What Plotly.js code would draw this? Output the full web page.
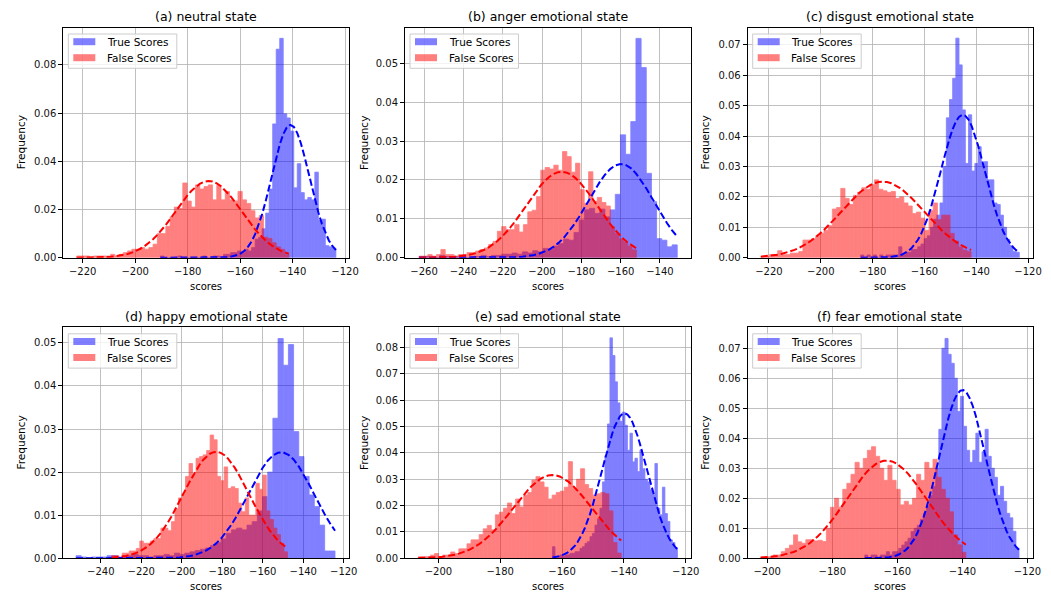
<!DOCTYPE html>
<html>
<head>
<meta charset="utf-8">
<script src="https://cdn.plot.ly/plotly-3.0.1.min.js"></script>
<style>
  html, body { margin: 0; padding: 0; background: #fff; }
  #chart { width: 1051px; height: 592px; }
</style>
</head>
<body>
<div id="chart"></div>
<script>
// Score distributions of true / false trials for six emotional states.
// Each histogram: 50 equal-width bins between the listed min and max score,
// heights are densities (Frequency). Dashed curves: fitted normal densities.

const panelTitles = [
  '(a) neutral state', '(b) anger emotional state', '(c) disgust emotional state',
  '(d) happy emotional state', '(e) sad emotional state', '(f) fear emotional state'
];
const seriesNames = ['True Scores', 'False Scores'];

// ---- (a) neutral ----
const neutralTrue = [0.0007,0,0,0,0,0.0007,0,0,0,0, 0,0,0.0007,0,0,0.0007,0.0007,0,0.0014,0.0014,
  0.0021,0.0021,0.0028,0.0021,0.0035,0.0028,0.0042,0.0077,0.0084,0.012,
  0.0185,0.0285,0.0555,0.0865,0.091,0.0597,0.058,0.0525,0.029,0.039,
  0.027,0.024,0.025,0.024,0.0355,0.0155,0.016,0.005,0.0045,0.004];
const neutralTrueRange = [-190.4, -123.5];
const neutralTrueFit = [-140.8, 7.24];          // [mean, std]
const neutralFalse = [0.0007,0.0007,0.0007,0,0.0007,0.0007,0.0007,0.0007,0.0014,0.0007,
  0.0014,0.0021,0.0028,0.0035,0.0035,0.0042,0.0035,0.0042,0.0056,0.0100,
  0.0100,0.013,0.017,0.021,0.0205,0.031,0.0235,0.021,0.0302,0.0285,
  0.0295,0.0302,0.024,0.030,0.024,0.0275,0.024,0.0235,0.0275,0.024,
  0.0225,0.0195,0.0165,0.0175,0.0085,0.008,0.0062,0.0045,0.0035,0.0012];
const neutralFalseRange = [-222.3, -141.4];
const neutralFalseFit = [-172.0, 12.55];

// ---- (b) anger ----
const angerTrue = [0.0003,0.0003,0,0,0.0006,0.0003,0,0.0003,0.0003,0,
  0.0003,0.0003,0.0006,0.0003,0.0006,0.0006,0.0009,0.0009,0.0012,0.0009,
  0.0015,0.0012,0.0018,0.0015,0.0024,0.0021,0.003,0.0036,0.0048,0.0045,
  0.0065,0.0097,0.0123,0.0127,0.0114,0.0125,0.0105,0.0123,0.0163,0.0316,
  0.0266,0.035,0.0564,0.0489,0.0217,0.0144,0.0049,0.0045,0.0028,0.0033];
const angerTrueRange = [-262.5, -131.2];
const angerTrueFit = [-159.8, 16.55];
const angerFalse = [0.0004,0.0004,0.0008,0.0004,0.0008,0.0021,0.0008,0.0008,0.0004,0.0008,
  0.0008,0.0013,0.0013,0.0017,0.0021,0.0025,0.0034,0.0042,0.0068,0.0080,
  0.0072,0.0072,0.0085,0.0066,0.0085,0.0118,0.0122,0.0157,0.0225,0.0232,
  0.0228,0.0238,0.0225,0.0273,0.0260,0.0220,0.0243,0.0175,0.0140,0.0221,
  0.0145,0.0155,0.0142,0.0133,0.0080,0.0063,0.0048,0.0040,0.0030,0.0020];
const angerFalseRange = [-262.5, -152.0];
const angerFalseFit = [-190.0, 18.05];

// ---- (c) disgust ----
const disgustTrue = [0.0009,0,0.0009,0,0.0009,0,0.0009,0,0.0009,0.0009,
  0.0009,0.0009,0.0036,0.0009,0.0018,0.0018,0.0027,0.0027,0.0036,0.0045,
  0.0063,0.0072,0.0100,0.0127,0.0140,0.0180,0.030,0.046,0.052,0.059,
  0.0722,0.0634,0.0486,0.031,0.047,0.0285,0.031,0.0365,0.031,0.0316,
  0.0256,0.0256,0.018,0.0175,0.014,0.010,0.006,0.004,0.002,0.0018];
const disgustTrueRange = [-184.6, -123.4];
const disgustTrueFit = [-145.2, 8.49];
const disgustFalse = [0.0005,0.0005,0.0010,0.0010,0.0023,0.0010,0.0010,0.0015,0.0015,0.0020,
  0.0058,0.0058,0.0062,0.0070,0.0080,0.0090,0.0105,0.0160,0.0165,0.0228,
  0.0195,0.0175,0.0205,0.0215,0.0230,0.0225,0.0240,0.0256,0.0225,0.0220,
  0.0215,0.0218,0.0195,0.0200,0.0180,0.0170,0.0145,0.0150,0.0130,0.0090,
  0.0155,0.0180,0.0125,0.0140,0.0140,0.0080,0.0055,0.0035,0.0025,0.0020];
const disgustFalseRange = [-223.1, -142.0];
const disgustFalseFit = [-176.1, 15.96];

// ---- (d) happy ----
const happyTrue = [0.0006,0.0003,0,0.0003,0.0003,0.0003,0.0006,0.0006,0.0003,0.0006,
  0.0006,0.0009,0.0006,0.0006,0.0003,0.0006,0.0006,0.0009,0.0006,0.0012,
  0.0009,0.0012,0.0015,0.0018,0.0021,0.0024,0.0030,0.0036,0.0045,0.0058,
  0.0066,0.0070,0.0066,0.0077,0.0085,0.0110,0.0143,0.0200,0.0325,0.0510,
  0.0448,0.0496,0.0294,0.0236,0.0190,0.0147,0.0120,0.0077,0.0017,0.0017];
const happyTrueRange = [-252.2, -124.3];
const happyTrueFit = [-150.9, 16.2];
const happyFalse = [0.0006,0.0006,0,0.0012,0.0012,0.0017,0.0017,0.0023,0.0040,0.0035,
  0.0035,0.0040,0.0046,0.0046,0.0070,0.0070,0.0064,0.0085,0.0115,0.0140,
  0.0150,0.0190,0.0220,0.0195,0.0232,0.0236,0.0240,0.0250,0.0286,0.0275,
  0.0190,0.0180,0.0212,0.0162,0.0166,0.0162,0.0128,0.0108,0.0140,0.0100,
  0.0100,0.0174,0.0160,0.0193,0.0110,0.0090,0.0070,0.0055,0.0035,0.0015];
const happyFalseRange = [-234.6, -147.8];
const happyFalseFit = [-183.0, 16.15];

// ---- (e) sad ----
const sadTrue = [0.0044,0.0006,0.0006,0.0013,0.0006,0.0013,0.0013,0.0019,0.0019,0.0025,
  0.0025,0.0038,0.0044,0.0057,0.0063,0.0082,0.0095,0.0126,0.0150,0.0190,
  0.0290,0.0390,0.0510,0.0837,0.0770,0.0670,0.0590,0.0520,0.0555,0.0505,
  0.0410,0.0475,0.0366,0.0380,0.0329,0.0410,0.0340,0.0300,0.0290,0.0260,
  0.0240,0.0360,0.0190,0.0165,0.0270,0.0170,0.0140,0.0070,0.0060,0.0040];
const sadTrueRange = [-163.1, -122.7];
const sadTrueFit = [-139.8, 7.25];
const sadFalse = [0.0006,0.0006,0.0006,0.0012,0.0018,0.0006,0.0012,0.0012,0.0024,0.0018,
  0.0036,0.0036,0.0055,0.0070,0.0070,0.0090,0.0112,0.0125,0.0108,0.0165,
  0.0175,0.0190,0.0210,0.0170,0.0225,0.0195,0.0240,0.0250,0.0297,0.0310,
  0.0290,0.0270,0.0225,0.0240,0.0250,0.0255,0.0270,0.0367,0.0265,0.0300,
  0.0340,0.0280,0.0265,0.0240,0.0245,0.0250,0.0245,0.0180,0.0060,0.0020];
const sadFalseRange = [-206.5, -140.9];
const sadFalseFit = [-163.1, 12.62];

// ---- (f) fear ----
const fearTrue = [0.0011,0,0.0011,0.0011,0,0.0011,0.0011,0.0022,0.0011,0.0022,
  0.0022,0.0033,0.0044,0.0055,0.0067,0.0089,0.0100,0.0110,0.0130,0.0150,
  0.0175,0.0210,0.0240,0.0300,0.0430,0.0700,0.0733,0.0680,0.0650,0.0600,
  0.0490,0.0540,0.0440,0.0360,0.0320,0.0360,0.0417,0.0320,0.0355,0.0430,
  0.0340,0.0300,0.0270,0.0210,0.0240,0.0190,0.0150,0.0135,0.0090,0.0033];
const fearTrueRange = [-170.0, -122.6];
const fearTrueFit = [-140.0, 7.11];
const fearFalse = [0.0005,0.0005,0.0005,0.0011,0.0011,0.0022,0.0033,0.0044,0.0078,0.0055,
  0.0050,0.0062,0.0062,0.0058,0.0060,0.0056,0.0100,0.0170,0.0200,0.0170,
  0.0230,0.0250,0.0280,0.0320,0.0300,0.0333,0.0360,0.0372,0.0340,0.0300,
  0.0260,0.0310,0.0260,0.0230,0.0178,0.0190,0.0178,0.0200,0.0280,0.0260,
  0.0320,0.0300,0.0330,0.0270,0.0230,0.0200,0.0155,0.0078,0.0045,0.0020];
const fearFalseRange = [-202.0, -138.95];
const fearFalseFit = [-163.3, 12.24];

const panelData = [
  [neutralTrue, neutralTrueRange, neutralTrueFit, neutralFalse, neutralFalseRange, neutralFalseFit],
  [angerTrue, angerTrueRange, angerTrueFit, angerFalse, angerFalseRange, angerFalseFit],
  [disgustTrue, disgustTrueRange, disgustTrueFit, disgustFalse, disgustFalseRange, disgustFalseFit],
  [happyTrue, happyTrueRange, happyTrueFit, happyFalse, happyFalseRange, happyFalseFit],
  [sadTrue, sadTrueRange, sadTrueFit, sadFalse, sadFalseRange, sadFalseFit],
  [fearTrue, fearTrueRange, fearTrueFit, fearFalse, fearFalseRange, fearFalseFit]
];

// ---------- layout geometry (pixels in a 1051 x 592 figure) ----------
const W = 1051, H = 592;
const colPx = [[63.3, 349], [405, 691], [747.7, 1033]];
const rowPx = [[27.5, 257.7], [327.3, 558.3]];
const xRanges = [[-227.4, -118.5], [-269.7, -124.2], [-228.2, -118.1],
                 [-258.5, -117.4], [-210.8, -118.3], [-206.0, -118.3]];
const yRanges = [[0, 0.0955], [0, 0.0592], [0, 0.0757],
                 [0, 0.0536], [0, 0.0877], [0, 0.077]];
const yDticks = [0.02, 0.01, 0.01, 0.01, 0.01, 0.01];

const FONT = 'DejaVu Sans, Liberation Sans, sans-serif';
const BLUE = 'rgb(0,0,255)', RED = 'rgb(255,0,0)';
const PATCH = ['rgba(0,0,255,0.5)', 'rgba(255,0,0,0.5)'];

function binEdges(range, n) {
  const e = [];
  for (let k = 0; k <= n; k++) e.push(range[0] + (range[1] - range[0]) * k / n);
  return e;
}
function normalPdf(x, fit) {
  const z = (x - fit[0]) / fit[1];
  return Math.exp(-0.5 * z * z) / (fit[1] * Math.sqrt(2 * Math.PI));
}

const traces = [];
const layout = {
  width: W, height: H,
  margin: {l: 0, r: 0, t: 0, b: 0},
  paper_bgcolor: '#fff', plot_bgcolor: '#fff',
  barmode: 'overlay',
  showlegend: false,
  font: {family: FONT, size: 10, color: '#000'},
  annotations: [],
  shapes: []
};

const px = v => v / W;
const py = v => 1 - v / H;

panelData.forEach((p, i) => {
  const n = i + 1;
  const sfx = n === 1 ? '' : String(n);
  const xa = 'x' + sfx, ya = 'y' + sfx;
  const col = i % 3, row = Math.floor(i / 3);
  const [x0, x1] = colPx[col], [y0, y1] = rowPx[row];

  const groups = [
    {vals: p[0], range: p[1], fit: p[2], color: BLUE, name: seriesNames[0]},
    {vals: p[3], range: p[4], fit: p[5], color: RED, name: seriesNames[1]}
  ];
  // histograms first (true under false), dashed fits on top
  groups.forEach(g => {
    const edges = binEdges(g.range, g.vals.length);
    const w = edges[1] - edges[0];
    traces.push({
      type: 'bar', xaxis: xa, yaxis: ya, name: g.name,
      x: g.vals.map((_, k) => edges[k] + w / 2),
      y: g.vals, width: w,
      marker: {color: g.color, line: {color: g.color, width: 0.8}},
      opacity: 0.5, hoverinfo: 'x+y'
    });
  });
  groups.forEach(g => {
    const edges = binEdges(g.range, g.vals.length);
    traces.push({
      type: 'scatter', mode: 'lines', xaxis: xa, yaxis: ya,
      name: g.name + ' fit', hoverinfo: 'skip',
      x: edges, y: edges.map(v => normalPdf(v, g.fit)),
      line: {color: g.color, width: 2, dash: '7px,3px'}
    });
  });

  const axisCommon = {
    showline: true, mirror: true, linecolor: '#000', linewidth: 1,
    showgrid: true, gridcolor: '#b0b0b0', gridwidth: 0.8, zeroline: false,
    ticks: 'outside', ticklen: 4, tickwidth: 1, tickcolor: '#000',
    tickfont: {family: FONT, size: 10, color: '#111'}, fixedrange: true
  };
  layout['xaxis' + sfx] = Object.assign({}, axisCommon, {
    domain: [px(x0), px(x1)], anchor: ya, range: xRanges[i], dtick: 20, tick0: 0
  });
  layout['yaxis' + sfx] = Object.assign({}, axisCommon, {
    domain: [py(y1), py(y0)], anchor: xa, range: yRanges[i],
    dtick: yDticks[i], tick0: 0, tickformat: '.2f'
  });

  // legend box in the upper-left corner of each panel
  const lx = x0 + 5, ly = y0 + 6.5;
  layout.shapes.push({
    type: 'rect', xref: 'paper', yref: 'paper', layer: 'above',
    x0: px(lx), x1: px(lx + 108.5), y0: py(ly), y1: py(ly + 34.3),
    fillcolor: 'rgba(255,255,255,0.8)', line: {color: '#cccccc', width: 1}
  });
  seriesNames.forEach((name, k) => {
    const cy = ly + 7.7 + 16 * k;
    layout.shapes.push({
      type: 'rect', xref: 'paper', yref: 'paper', layer: 'above',
      x0: px(lx + 5), x1: px(lx + 27), y0: py(cy - 3.5), y1: py(cy + 3.5),
      fillcolor: PATCH[k], line: {width: 0}
    });
    layout.annotations.push({
      text: name, xref: 'paper', yref: 'paper',
      x: px(lx + 36.5), y: py(cy), xanchor: 'left', yanchor: 'middle',
      showarrow: false, font: {family: FONT, size: 10.5, color: '#000'}
    });
  });

  // subplot title
  layout.annotations.push({
    text: panelTitles[i], xref: 'paper', yref: 'paper',
    x: px((x0 + x1) / 2), y: py(y0 - 11), xanchor: 'center', yanchor: 'middle',
    showarrow: false, font: {family: FONT, size: 12.5, color: '#000'}
  });
  // axis titles
  layout.annotations.push({
    text: 'scores', xref: 'paper', yref: 'paper',
    x: px((x0 + x1) / 2), y: py(y1 + 28.5), xanchor: 'center', yanchor: 'middle',
    showarrow: false, font: {family: FONT, size: 10, color: '#000'}
  });
  const yTitleX = [20.7, 363.3, 705][col];
  layout.annotations.push({
    text: 'Frequency', xref: 'paper', yref: 'paper', textangle: -90,
    x: px(yTitleX), y: py((y0 + y1) / 2), xanchor: 'center', yanchor: 'middle',
    showarrow: false, font: {family: FONT, size: 10.5, color: '#000'}
  });
});

Plotly.newPlot('chart', traces, layout, {displayModeBar: false, staticPlot: true});
</script>
</body>
</html>
